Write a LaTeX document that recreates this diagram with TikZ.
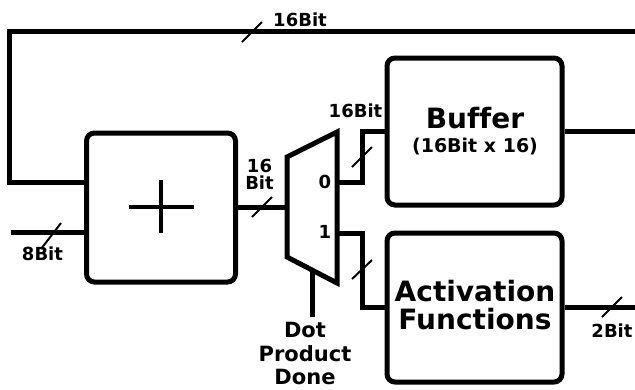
\documentclass[tikz,border=0pt]{standalone}
\usepackage{fontspec}
\setmainfont{DejaVu Sans}[Ligatures=NoCommon]
\begin{document}
\begin{tikzpicture}[x=1pt,y=-1pt,
  wire/.style={line width=5pt},
  blk/.style={draw,line width=5pt,rounded corners=8pt,inner sep=0pt},
  slash/.style={line width=2pt},
  lbl/.style={font=\fontsize{18}{17.5}\selectfont\bfseries,inner sep=0pt,align=center},
  sel/.style={font=\fontsize{21}{23.5}\selectfont\bfseries,inner sep=0pt,align=center},
  ttl/.style={font=\fontsize{28}{28}\selectfont\bfseries,inner sep=0pt,align=center},
  sub/.style={font=\fontsize{19}{19}\selectfont\bfseries,inner sep=0pt}]
\useasboundingbox (0,0) rectangle (635,389);

% blocks
\node[blk,minimum width=149pt,minimum height=149pt] (add) at (161,207.5) {};
\node[blk,minimum width=175pt,minimum height=147pt] (buf) at (474.5,131.5) {};
\node[blk,minimum width=175pt,minimum height=149pt] (af) at (474.5,307.5) {};

% plus sign
\draw[line width=4pt] (129,207) -- (194,207) (161,180) -- (161,233);

% multiplexer
\draw[wire,line join=miter] (287,157) -- (337,132) -- (337,283) -- (287,257) -- cycle;
\coordinate (min) at (287,207);
\coordinate (m0) at (337,182);
\coordinate (m1) at (337,233);
\coordinate (msel) at (312,270);

% free ends
\coordinate (fbR) at (635,31);
\coordinate (addfb) at (86.5,182);
\coordinate (inL) at (11,232);
\coordinate (bufR) at (635,131.5);
\coordinate (afR) at (635,307.5);
\coordinate (selB) at (312,317);

% connectors
\draw[wire] (fbR) -- (9,31) |- (addfb);
\draw[wire] (inL) -- (inL -| add.west);
\draw[wire] (add.east |- min) -- (min);
\draw[wire] (m0) -- ++(25,0) |- (buf.west);
\draw[wire] (m1) -- ++(25,0) |- (af.west);
\draw[wire] (buf.east) -- (bufR);
\draw[wire] (af.east) -- (afR);
\draw[wire] (msel) -- (selB);

% bus-width slashes
\draw[slash] (242,42) -- (262,22);
\draw[slash] (41,249) -- (61,223);
\draw[slash] (252,217) -- (272,197);
\draw[slash] (352,167) -- (372,147);
\draw[slash] (352,279) -- (372,260);
\draw[slash] (602,317) -- (622,297);

% labels
\node[lbl,anchor=base] (t16) at (300,26) {16Bit};
\node[lbl,anchor=base] (t8) at (42.5,260) {8Bit};
\node[lbl,anchor=south] (tadd) at (259.5,190) {16\\Bit};
\node[lbl,anchor=base] (tmux) at (355.5,117) {16Bit};
\node[lbl,anchor=base] (t0) at (325,188) {0};
\node[lbl,anchor=base] (t1) at (325,238) {1};
\node[lbl,anchor=base] (t2) at (612,337) {2Bit};
\node[sel,anchor=south] (tsel) at (305,385) {Dot\\Product\\Done};
\node[ttl,anchor=base] (tbuf) at (475,128) {Buffer};
\node[sub,anchor=base] (tbufs) at (475,152) {(16Bit x 16)};
\node[ttl,anchor=south] (taf) at (475,330) {Activation\\Functions};
\end{tikzpicture}
\end{document}
